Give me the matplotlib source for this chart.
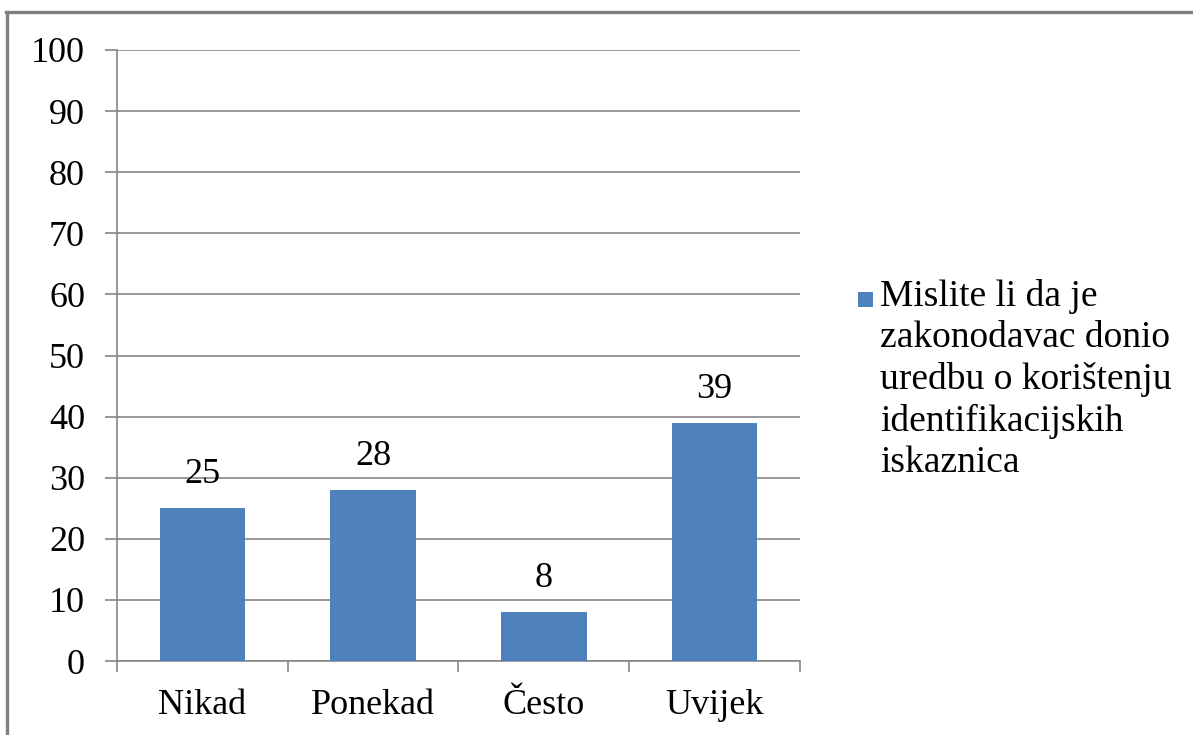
import matplotlib
matplotlib.use("Agg")
import matplotlib.pyplot as plt
from matplotlib.patches import Rectangle
from matplotlib.lines import Line2D

categories = ["Nikad", "Ponekad", "Često", "Uvijek"]
values = [25, 28, 8, 39]
yticks = [0, 10, 20, 30, 40, 50, 60, 70, 80, 90, 100]
legend_label = "Mislite li da je\nzakonodavac donio\nuredbu o korištenju\nidentifikacijskih\niskaznica"

plt.rcParams['font.family'] = ['Liberation Serif', 'DejaVu Serif']

W, H = 1193, 735
fig = plt.figure(figsize=(W / 100, H / 100), dpi=100)
ax = fig.add_axes([117 / W, (H - 661) / H, 683 / W, 611 / H])

gray = "#868686"
bar_color = "#4F81BD"

x = list(range(len(categories)))
bars = ax.bar(x, values, width=0.5, color=bar_color, zorder=3)

ax.set_xlim(-0.5, len(categories) - 0.5)
ax.set_ylim(0, 100)
ax.set_yticks(yticks)
ax.set_yticklabels([str(v) for v in yticks])
ax.yaxis.grid(True, color=gray, linewidth=1.2, zorder=0)
ax.set_axisbelow(True)

ax.set_xticks([i - 0.5 for i in range(len(categories) + 1)], minor=False)
ax.set_xticklabels([""] * (len(categories) + 1))
ax.set_xticks(x, minor=True)
ax.set_xticklabels(categories, minor=True)
ax.tick_params(axis='x', which='major', length=8, width=1.2, color=gray, direction='out')
ax.tick_params(axis='x', which='minor', length=0, pad=20, labelsize=26)
ax.tick_params(axis='y', length=9, width=1.2, color=gray, direction='out', pad=14, labelsize=26)

for s in ['top', 'right']:
    ax.spines[s].set_visible(False)
for s in ['left', 'bottom']:
    ax.spines[s].set_color(gray)
    ax.spines[s].set_linewidth(1.2)

for xi, v in zip(x, values):
    ax.annotate(str(v), (xi, v), xytext=(0, 18), textcoords='offset points',
                ha='center', va='baseline', fontsize=26)

# legend (manual)
fig.patches.append(Rectangle((858 / W, (H - 307) / H), 15 / W, 15 / H,
                             transform=fig.transFigure, facecolor=bar_color,
                             edgecolor='none'))
fig.text(880 / W, (H - 279) / H, legend_label, ha='left', va='top',
         fontsize=27, linespacing=1.25)

# chart area border (top and left visible)
fig.add_artist(Line2D([7.5 / W, 7.5 / W], [0, (H - 11.5) / H], transform=fig.transFigure,
                      color="#808080", linewidth=2.4))
fig.add_artist(Line2D([6.3 / W, 1.0], [(H - 11.5) / H, (H - 11.5) / H], transform=fig.transFigure,
                      color="#808080", linewidth=2.4))

fig.savefig("out.png", dpi=100)
